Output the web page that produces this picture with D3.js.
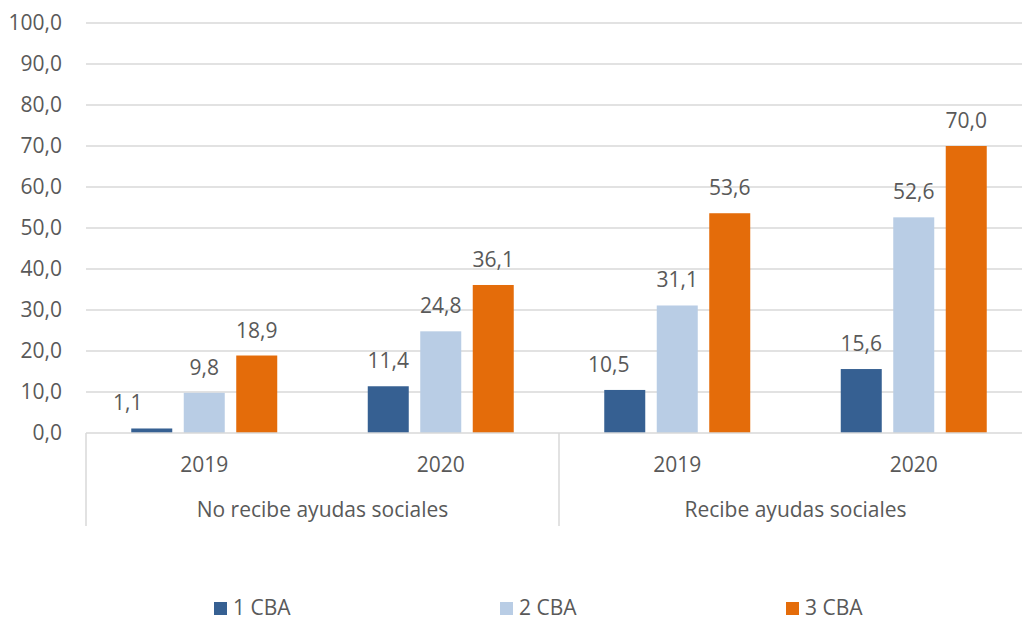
<!DOCTYPE html>
<html>
<head>
<meta charset="utf-8">
<script src="https://cdn.jsdelivr.net/npm/d3@7"></script>
<style>
  html, body { margin: 0; padding: 0; background: #ffffff; }
  svg text { font-family: "Open Sans", "Noto Sans", sans-serif; fill: #595959; }
</style>
</head>
<body>
<svg id="chart" width="1022" height="620"></svg>
<script>
// Grupos, años y series
const groups = ["No recibe ayudas sociales", "Recibe ayudas sociales"];
const years = ["2019", "2020"];
const series = ["1 CBA", "2 CBA", "3 CBA"];

// Valores por serie, en orden: [No recibe 2019, No recibe 2020, Recibe 2019, Recibe 2020]
const cba1 = [1.1, 11.4, 10.5, 15.6];
const cba2 = [9.8, 24.8, 31.1, 52.6];
const cba3 = [18.9, 36.1, 53.6, 70.0];

const yTicks = [0, 10, 20, 30, 40, 50, 60, 70, 80, 90, 100];
const colors = ["#366092", "#b9cde5", "#e46c0a"];

// Desplazamiento horizontal de etiquetas que chocarían con la barra vecina
const labelNudge = [[-24, 0, -16, 0], [0, 0, 0, 0], [0, 0, 0, 0]];

const values = [cba1, cba2, cba3];
const fmt = v => d3.format(".1f")(v).replace(".", ",");
const FS = 21;

const svg = d3.select("#chart");
const margin = { left: 86, right: -10, top: 23, bottom: 187 };
const W = 1022, H = 620;
const x0 = margin.left, x1End = W - margin.right;
const yBase = H - margin.bottom;

const y = d3.scaleLinear().domain([0, 100]).range([yBase, margin.top]);
const xGroup = d3.scaleBand().domain(groups).range([x0, x1End]);
const xYear = d3.scaleBand().domain(years).range([0, xGroup.bandwidth()]);
const xSeries = d3.scaleBand().domain(series).range([0, xYear.bandwidth()])
  .paddingInner(0.219).paddingOuter(0.862);

// Líneas de cuadrícula
svg.append("g").selectAll("line").data(yTicks.filter(t => t > 0)).join("line")
  .attr("x1", x0).attr("x2", x1End)
  .attr("y1", d => y(d)).attr("y2", d => y(d))
  .attr("stroke", "#d9d9d9").attr("stroke-width", 1.3);

// Eje Y
const yAxis = svg.append("g").attr("transform", `translate(${x0},0)`)
  .call(d3.axisLeft(y).tickValues(yTicks).tickSize(0).tickPadding(24).tickFormat(fmt));
yAxis.select(".domain").remove();
yAxis.selectAll("text").attr("font-size", FS).style("fill", "#595959")
  .style("font-family", "'Open Sans', sans-serif");

// Filas de datos planas
const rows = [];
groups.forEach((g, gi) => years.forEach((yr, yi) => {
  const idx = gi * years.length + yi;
  series.forEach((s, si) => rows.push({ g, yr, s, si, idx, v: values[si][idx] }));
}));
const xPos = d => xGroup(d.g) + xYear(d.yr) + xSeries(d.s);

// Barras
svg.append("g").selectAll("rect").data(rows).join("rect")
  .attr("x", xPos)
  .attr("y", d => y(d.v))
  .attr("width", xSeries.bandwidth())
  .attr("height", d => y(0) - y(d.v))
  .attr("fill", d => colors[d.si]);

// Etiquetas de valor
svg.append("g").selectAll("text").data(rows).join("text")
  .attr("x", d => xPos(d) + xSeries.bandwidth() / 2 + labelNudge[d.si][d.idx])
  .attr("y", d => y(d.v) - 18)
  .attr("text-anchor", "middle")
  .attr("font-size", FS)
  .text(d => fmt(d.v));

// Línea base y separadores de categorías
svg.append("line").attr("x1", x0).attr("x2", x1End).attr("y1", yBase).attr("y2", yBase)
  .attr("stroke", "#d9d9d9").attr("stroke-width", 1.5);
const seps = groups.map(g => xGroup(g)).concat([x1End]);
svg.append("g").selectAll("line").data(seps).join("line")
  .attr("x1", d => d).attr("x2", d => d)
  .attr("y1", yBase).attr("y2", yBase + 93)
  .attr("stroke", "#d9d9d9").attr("stroke-width", 1.5);

// Etiquetas de año
const yearLabels = [];
groups.forEach(g => years.forEach(yr => yearLabels.push({ g, yr })));
svg.append("g").selectAll("text").data(yearLabels).join("text")
  .attr("x", d => xGroup(d.g) + xYear(d.yr) + xYear.bandwidth() / 2)
  .attr("y", yBase + 39)
  .attr("text-anchor", "middle").attr("font-size", FS)
  .text(d => d.yr);

// Etiquetas de grupo
svg.append("g").selectAll("text").data(groups).join("text")
  .attr("x", d => xGroup(d) + xGroup.bandwidth() / 2)
  .attr("y", yBase + 84)
  .attr("text-anchor", "middle").attr("font-size", FS)
  .text(d => d);

// Leyenda
const legendX = d3.scalePoint().domain(series).range([214, 786]);
const leg = svg.append("g").selectAll("g").data(series).join("g")
  .attr("transform", d => `translate(${legendX(d)},602)`);
leg.append("rect").attr("width", 13).attr("height", 13)
  .attr("fill", (d, i) => colors[i]);
leg.append("text").attr("x", 19).attr("y", 13).attr("font-size", FS).text(d => d);
</script>
</body>
</html>
